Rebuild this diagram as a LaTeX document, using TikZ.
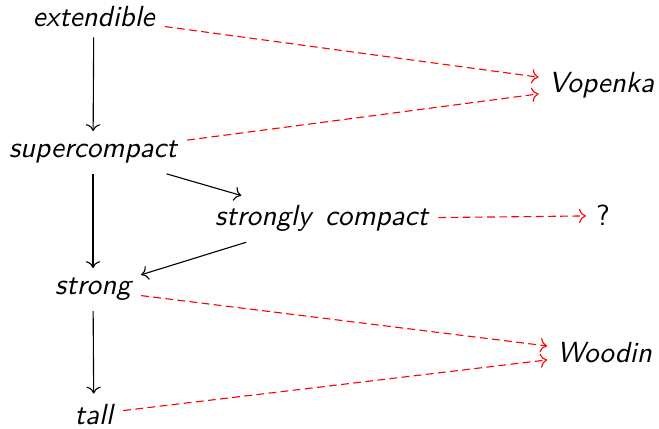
\documentclass[tikz,border=0pt]{standalone}
\usepackage{fontspec}
\usepackage{tikz}
\usetikzlibrary{arrows.meta}

\begin{document}
\begin{tikzpicture}
\tikzset{cardinal/.style = {anchor=base,font=\fontsize{10.5}{12}\selectfont\sffamily\itshape,inner sep=3.5pt}}
\tikzset{edge/.style = {->,> = {Computer Modern Rightarrow},line width=0.4pt}}
\tikzset{open/.style = {edge,red,dash pattern=on 2.8pt off 1.6pt}}
\useasboundingbox (0,0) rectangle (8.36,5.43);
% cardinals
\node[cardinal] (ext) at  (1.19,5.089) {extendible};
\node[cardinal] (sc) at  (1.18,3.426) {supercompact};
\node[cardinal] (stc) at (4.08,2.563) {strongly\hspace{5pt}compact};
\node[cardinal] (str) at (1.18,1.688) {strong};
\node[cardinal] (tall) at  (1.19,0.051) {tall};
\node[cardinal] (vop) at  (7.63,4.251) {Vopenka};
\node[cardinal] (wood) at  (7.67,0.825) {Woodin};
\node[cardinal,font=\fontsize{10.5}{12}\selectfont\sffamily] (q) at (7.65,2.563) {?};
%edges
\draw[edge] (ext) to (sc);
\draw[edge] (sc) to (str);
\draw[edge] (sc) to (stc);
\draw[edge] (stc) to (str);
\draw[edge] (str) to (tall);
\draw[open] (ext) to (vop);
\draw[open] (sc) to (vop);
\draw[open] (stc) to (q);
\draw[open] (str) to (wood);
\draw[open] (tall) to (wood);
\end{tikzpicture}
\end{document}
